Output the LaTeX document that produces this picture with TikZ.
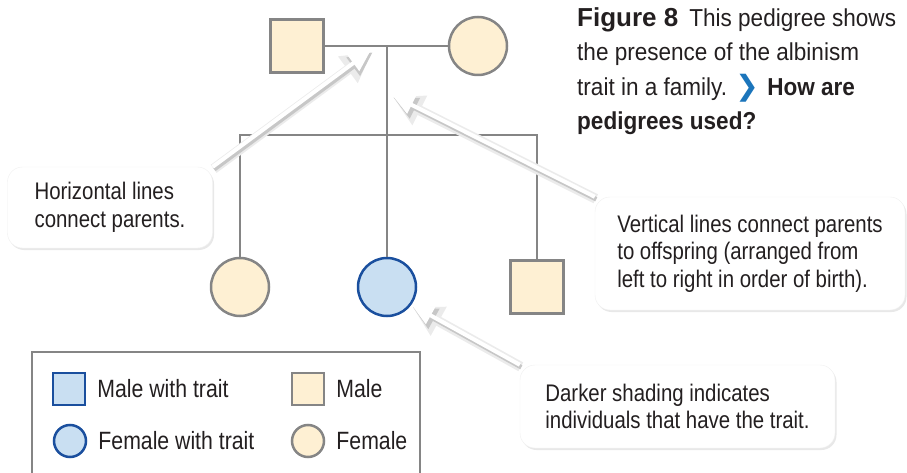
\documentclass[tikz,border=0pt]{standalone}
\usepackage{fontspec}
\setmainfont{Liberation Sans}
\newfontfamily\narrowfont{Liberation Sans}[FakeStretch=0.85]
\newfontfamily\figcapfont{Liberation Sans}[FakeStretch=0.92]
\newfontfamily\dingfont{DejaVu Sans}
\usetikzlibrary{arrows.meta,positioning,shadows}

\definecolor{cream}{HTML}{FEF0D3}
\definecolor{linegray}{HTML}{858585}
\definecolor{traitblue}{HTML}{C9DFF2}
\definecolor{traitedge}{HTML}{1A4F9E}
\definecolor{inkblack}{HTML}{231F20}
\definecolor{chevblue}{HTML}{1B75BB}

\pgfdeclarelayer{pedigree}
\pgfdeclarelayer{pointers}
\pgfsetlayers{pedigree,pointers,main}

\tikzset{
        pedline/.style={draw=linegray, line width=2.5pt},
        male/.style={rectangle, pedline, fill=cream, minimum size=53pt, inner sep=0pt},
        female/.style={circle, pedline, fill=cream, minimum size=58pt, inner sep=0pt},
        affected/.style={draw=traitedge, fill=traitblue},
        callout/.style={
            fill=white, draw=black!6, rounded corners=15pt, inner sep=0pt,
            align=left, text=inkblack,
            font=\narrowfont\fontsize{24}{27.5}\selectfont,
            drop shadow={shadow xshift=1.5pt, shadow yshift=-2pt, opacity=0.18}
        },
        pointer/.style={draw=white, line width=4pt, -{Triangle[length=22pt,width=19pt]}},
        pointer halo/.style={draw=black!8, line width=10pt, -{Triangle[length=30pt,width=31pt]},
            transform canvas={shift={(1pt,-2pt)}}},
        pointer shadow/.style={draw=black!22, line width=4.5pt, -{Triangle[length=24pt,width=22pt]},
            transform canvas={shift={(1.5pt,-2.5pt)}}},
        legendtext/.style={text=inkblack, font=\narrowfont\fontsize{25}{30}\selectfont, inner sep=0pt},
    }

\begin{document}
\begin{tikzpicture}[x = 1pt, y = -1pt]
                \useasboundingbox (0,0) rectangle (907,473);
                % the family: parents on top, three children below
                \begin{pgfonlayer}{pedigree}
                    \node[male] (dad) at (297,46) {};
                    \node[female] (mom) at (478,46) {};
                    \node[female] (kid1) at (240,287) {};
                    \node[female, affected] (kid2) at (387,287) {};
                    \node[male] (kid3) at (537,287) {};
                    \coordinate (mate) at (387,46);
                    \coordinate (sib) at (387,135);
                    \draw[pedline] (dad) -- (mom);
                    \draw[pedline] (mate) -- (kid2);
                    \draw[pedline] (kid1) -- (kid1 |- sib) -- (kid3 |- sib) -- (kid3);
                \end{pgfonlayer}
                % callouts
                \node[callout, minimum width=205pt, minimum height=81pt] (hcall) at (110,207.5)
                    {Horizontal lines\\connect parents.};
                \node[callout, minimum width=310pt, minimum height=113pt] (vcall) at (750,253.5)
                    {Vertical lines connect parents\\to offspring (arranged from\\left to right in order of birth).};
                \node[callout, minimum width=315pt, minimum height=83pt] (dcall) at (677.5,406.5)
                    {Darker shading indicates\\individuals that have the trait.};
                \coordinate (hpoint) at (371,50);
                \coordinate (vpoint) at (392,95);
                \begin{pgfonlayer}{pointers}
                    \foreach \from/\to in {hcall.north east/hpoint, vcall.north west/vpoint, dcall.north west/kid2.-36}
                    {
                        \draw[pointer halo] (\from) -- (\to);
                        \draw[pointer shadow] (\from) -- (\to);
                        \draw[pointer] (\from) -- (\to);
                    }
                \end{pgfonlayer}
                % caption
                \node[anchor=north west, inner sep=0pt, align=left, text=inkblack,
                      font=\figcapfont\fontsize{24.5}{34.5}\selectfont] (caption) at (577,7)
                    {{\normalfont\bfseries\fontsize{26}{34.5}\selectfont Figure 8}\hspace{0.45em}This pedigree shows\\
                     the presence of the albinism\\
                     trait in a family. {\dingfont\bfseries\fontsize{28}{34.5}\selectfont\color{chevblue}❯} {\bfseries How are}\\
                     {\bfseries pedigrees used?}};
                % key
                \draw[draw=linegray, line width=2pt] (32,480) -- (32,352) -- (420,352) -- (420,480);
                \node[male, affected, minimum size=32pt] (keymt) at (69,389) {};
                \node[male, minimum size=32pt] (keym) at (308,389) {};
                \node[female, affected, minimum size=32pt] (keyft) at (70,441) {};
                \node[female, minimum size=32pt] (keyf) at (308,441) {};
                \node[legendtext, right=11pt of keymt] {Male with trait};
                \node[legendtext, right=11pt of keym] {Male};
                \node[legendtext, right=11pt of keyft] {Female with trait};
                \node[legendtext, right=11pt of keyf] {Female};
            \end{tikzpicture}
\end{document}
